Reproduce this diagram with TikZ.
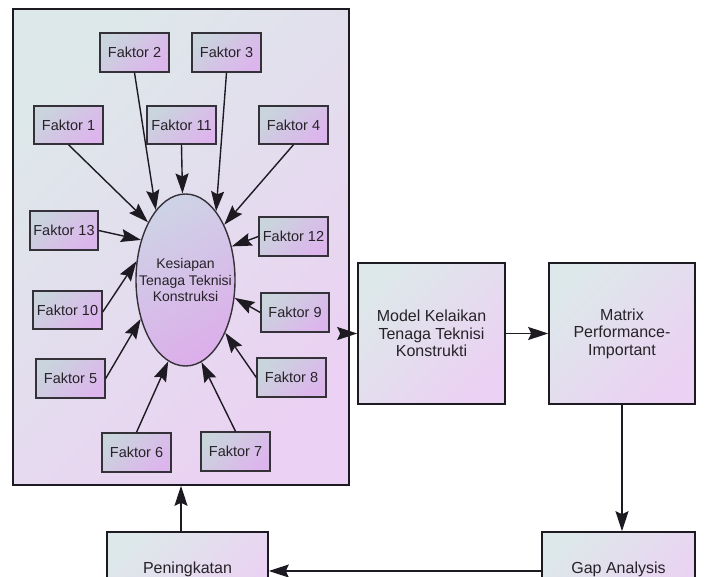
\documentclass[tikz,border=0pt]{standalone}
\usepackage{fontspec}
\setmainfont{Liberation Sans}
\usetikzlibrary{arrows.meta,shapes.geometric}

\definecolor{paleA}{HTML}{DDE8EA}
\definecolor{paleB}{HTML}{EBD1F3}
\definecolor{facA}{HTML}{C9D4DC}
\definecolor{facB}{HTML}{DDB5ED}
\definecolor{ellA}{HTML}{CED2E6}
\definecolor{ellB}{HTML}{DCAFEA}
\definecolor{edge}{HTML}{1E1A22}
\definecolor{ink}{HTML}{262228}

\tikzset{
  x=1pt, y=-1pt,
  every node/.style={text=ink, inner sep=0pt, align=center},
  panel/.style={draw=edge, line width=1.6pt, top color=paleA, bottom color=paleB, shading angle=45},
  factor/.style={draw=edge!90, line width=1.4pt, top color=facA, bottom color=facB, shading angle=45,
    font=\fontsize{14.5}{16}\selectfont},
  stagebox/.style={panel, font=\fontsize{16}{17.5}\selectfont},
  core/.style={ellipse, draw=edge!90, line width=1.4pt, top color=ellA, bottom color=ellB, shading angle=30,
    minimum width=99pt, minimum height=172pt},
  corelabel/.style={font=\fontsize{14}{16.5}\selectfont},
  flow/.style={draw=edge, line width=1.4pt, -{Stealth[length=20pt,width=13pt,inset=3pt]}},
}

\newcommand{\boxat}[6]{% name, x1, y1, x2, y2, style+text
  \node[#6, minimum width=#4-#2, minimum height=#5-#3] (#1) at ({(#2+#4)/2},{(#3+#5)/2})}

\begin{document}
\begin{tikzpicture}
\useasboundingbox (0,0) rectangle (705,577);
\begin{scope}
\clip (0,0) rectangle (705,577);

% outer panel holding the factors
\boxat{panel}{13}{9}{349}{485}{panel}{};

% central construct (the label sits on top so the ellipse keeps its size)
\node[core] (ell) at (185.5,280) {};
\node[corelabel] (elltext) at (ell.center) {Kesiapan\\Tenaga Teknisi\\Konstruksi};

% factor boxes
\boxat{f2}{100}{33}{169}{72}{factor}{Faktor 2};
\boxat{f3}{192}{33}{261}{72}{factor}{Faktor 3};
\boxat{f1}{34}{106}{103}{144}{factor}{Faktor 1};
\boxat{f11}{147}{106}{216}{144}{factor}{Faktor 11};
\boxat{f4}{259}{106}{328}{144}{factor}{Faktor 4};
\boxat{f13}{30}{211}{98}{250}{factor}{Faktor 13};
\boxat{f12}{259}{217}{328}{256}{factor}{Faktor 12};
\boxat{f10}{33}{291}{102}{329}{factor}{Faktor 10};
\boxat{f9}{261}{293}{329}{332}{factor}{Faktor 9};
\boxat{f5}{36}{359}{105}{398}{factor}{Faktor 5};
\boxat{f8}{257}{358}{326}{397}{factor}{Faktor 8};
\boxat{f6}{102}{433}{171}{472}{factor}{Faktor 6};
\boxat{f7}{201}{432}{270}{471}{factor}{Faktor 7};

% factor arrows into the construct
\draw[flow] (f2.south) -- (ell.113.5);
\draw[flow] (f11.south) -- (ell.92);
\draw[flow] (f3.south) -- (ell.66.5);
\draw[flow] (f1.south) -- (ell.123.6);
\draw[flow] (f4.south) -- (ell.55.7);
\draw[flow] (f13.east) -- (ell.138.7);
\draw[flow] (f12.west) -- (ell.36.4);
\draw[flow] ([yshift=-2pt]f10.east) -- (ell.159);
\draw[flow] (f9.west) -- (ell.-20);
\draw[flow] (f5.east) -- (ell.221.3);
\draw[flow] (f8.west) -- (ell.-53.6);
\draw[flow] (f6.north) -- (ell.-102.7);
\draw[flow] (f7.north) -- (ell.-79.4);

% process stages
\boxat{model}{358}{263}{505}{404}{stagebox}{Model Kelaikan\\Tenaga Teknisi\\Konstrukti};
\boxat{matrix}{549}{263}{695}{404}{stagebox}{Matrix\\Performance-\\Important};
\boxat{gap}{542}{532}{695}{612}{stagebox}{};
\node[font=\fontsize{16}{17.5}\selectfont] (gaplbl) at (618.5,569) {Gap Analysis};
\boxat{up}{107}{532}{268}{612}{stagebox}{};
\node[font=\fontsize{16}{17.5}\selectfont] (uplbl) at (187.5,569) {Peningkatan};

% stage connectors
\draw[flow] (panel.east |- model.west) -- (model.west);
\draw[flow] (model.east) -- (matrix.west);
\draw[flow] (matrix.south) -- (matrix.south |- gap.north);
\draw[flow] (gap.west |- 0,571) -- (up.east |- 0,571);
\draw[flow] (up.north -| panel.south) -- (panel.south);
\end{scope}
\end{tikzpicture}
\end{document}
